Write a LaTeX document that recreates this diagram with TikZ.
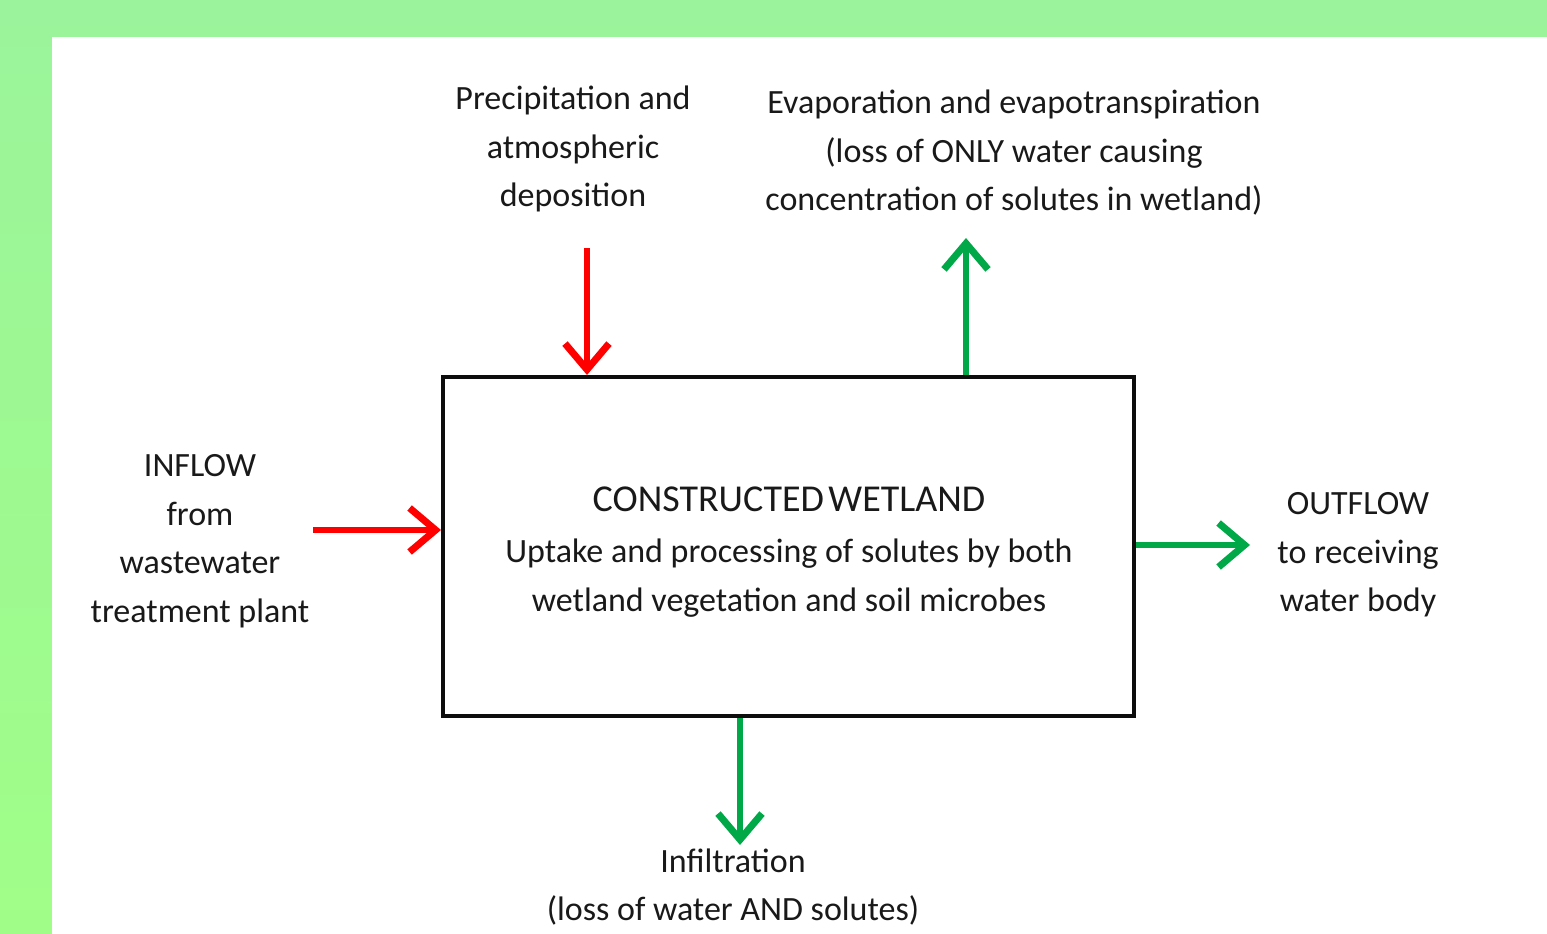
\documentclass[tikz,border=0pt]{standalone}
\usepackage{fontspec}
\setmainfont{Carlito}
\usetikzlibrary{arrows.meta}
\definecolor{bgtop}{RGB}{155,244,155}
\definecolor{bgbot}{RGB}{160,254,136}
\definecolor{arrgreen}{RGB}{0,168,72}
\definecolor{txt}{RGB}{25,25,25}
\tikzset{
  lbl/.style={align=center, text=txt, font=\fontsize{34}{48.5}\selectfont, inner sep=0pt},
  ttl/.style={align=center, text=txt, font=\fontsize{38}{48}\selectfont, inner sep=0pt},
  redarr/.style={draw=red, line width=6pt, -{Straight Barb[length=26pt,width=44pt,line width=7pt]}},
  greenarr/.style={draw=arrgreen, line width=6pt, -{Straight Barb[length=26pt,width=44pt,line width=7pt]}},
  mainbox/.style={draw=black!95, line width=4pt, fill=white, minimum width=691pt, minimum height=339pt, inner sep=0pt}
}
\begin{document}
\begin{tikzpicture}[x=1pt,y=-1pt]
\useasboundingbox (0,0) rectangle (1547,934);
\shade[top color=bgtop, bottom color=bgbot] (0,0) rectangle (1547,934);
\fill[white] (52,37) rectangle (1547,934);
% main box
\node[mainbox] (box) at (788.5,546.5) {};
\node[ttl] (t1) at (789,499) {CONSTRUCTED\hspace{0.12em}WETLAND};
\node[lbl] (t2) at (789,578) {Uptake and processing of solutes by both\\wetland vegetation and soil microbes};
% labels
\node[lbl] (prec) at (573,149) {Precipitation and\\atmospheric\\deposition};
\node[lbl] (evap) at (1014,153) {Evaporation and evapotranspiration\\(loss of ONLY water causing\\concentration of solutes in wetland)};
\node[lbl] (inflow) at (200,541) {INFLOW\\from\\wastewater\\treatment plant};
\node[lbl] (outflow) at (1358,555) {OUTFLOW\\to receiving\\water body};
\node[lbl] (infil) at (733,887) {Infiltration\\(loss of water AND solutes)};
% arrow anchors
\coordinate (pstart) at (587,248);
\coordinate (istart) at (313,530);
\coordinate (eend) at (966,238);
\coordinate (oend) at (1250,545);
\coordinate (fend) at (740,845);
\draw[redarr] (pstart) -- (pstart |- box.north);
\draw[redarr] (istart) -- (istart -| box.west);
\draw[greenarr] (eend |- box.north) -- (eend);
\draw[greenarr] (oend -| box.east) -- (oend);
\draw[greenarr] (fend |- box.south) -- (fend);
\end{tikzpicture}
\end{document}
